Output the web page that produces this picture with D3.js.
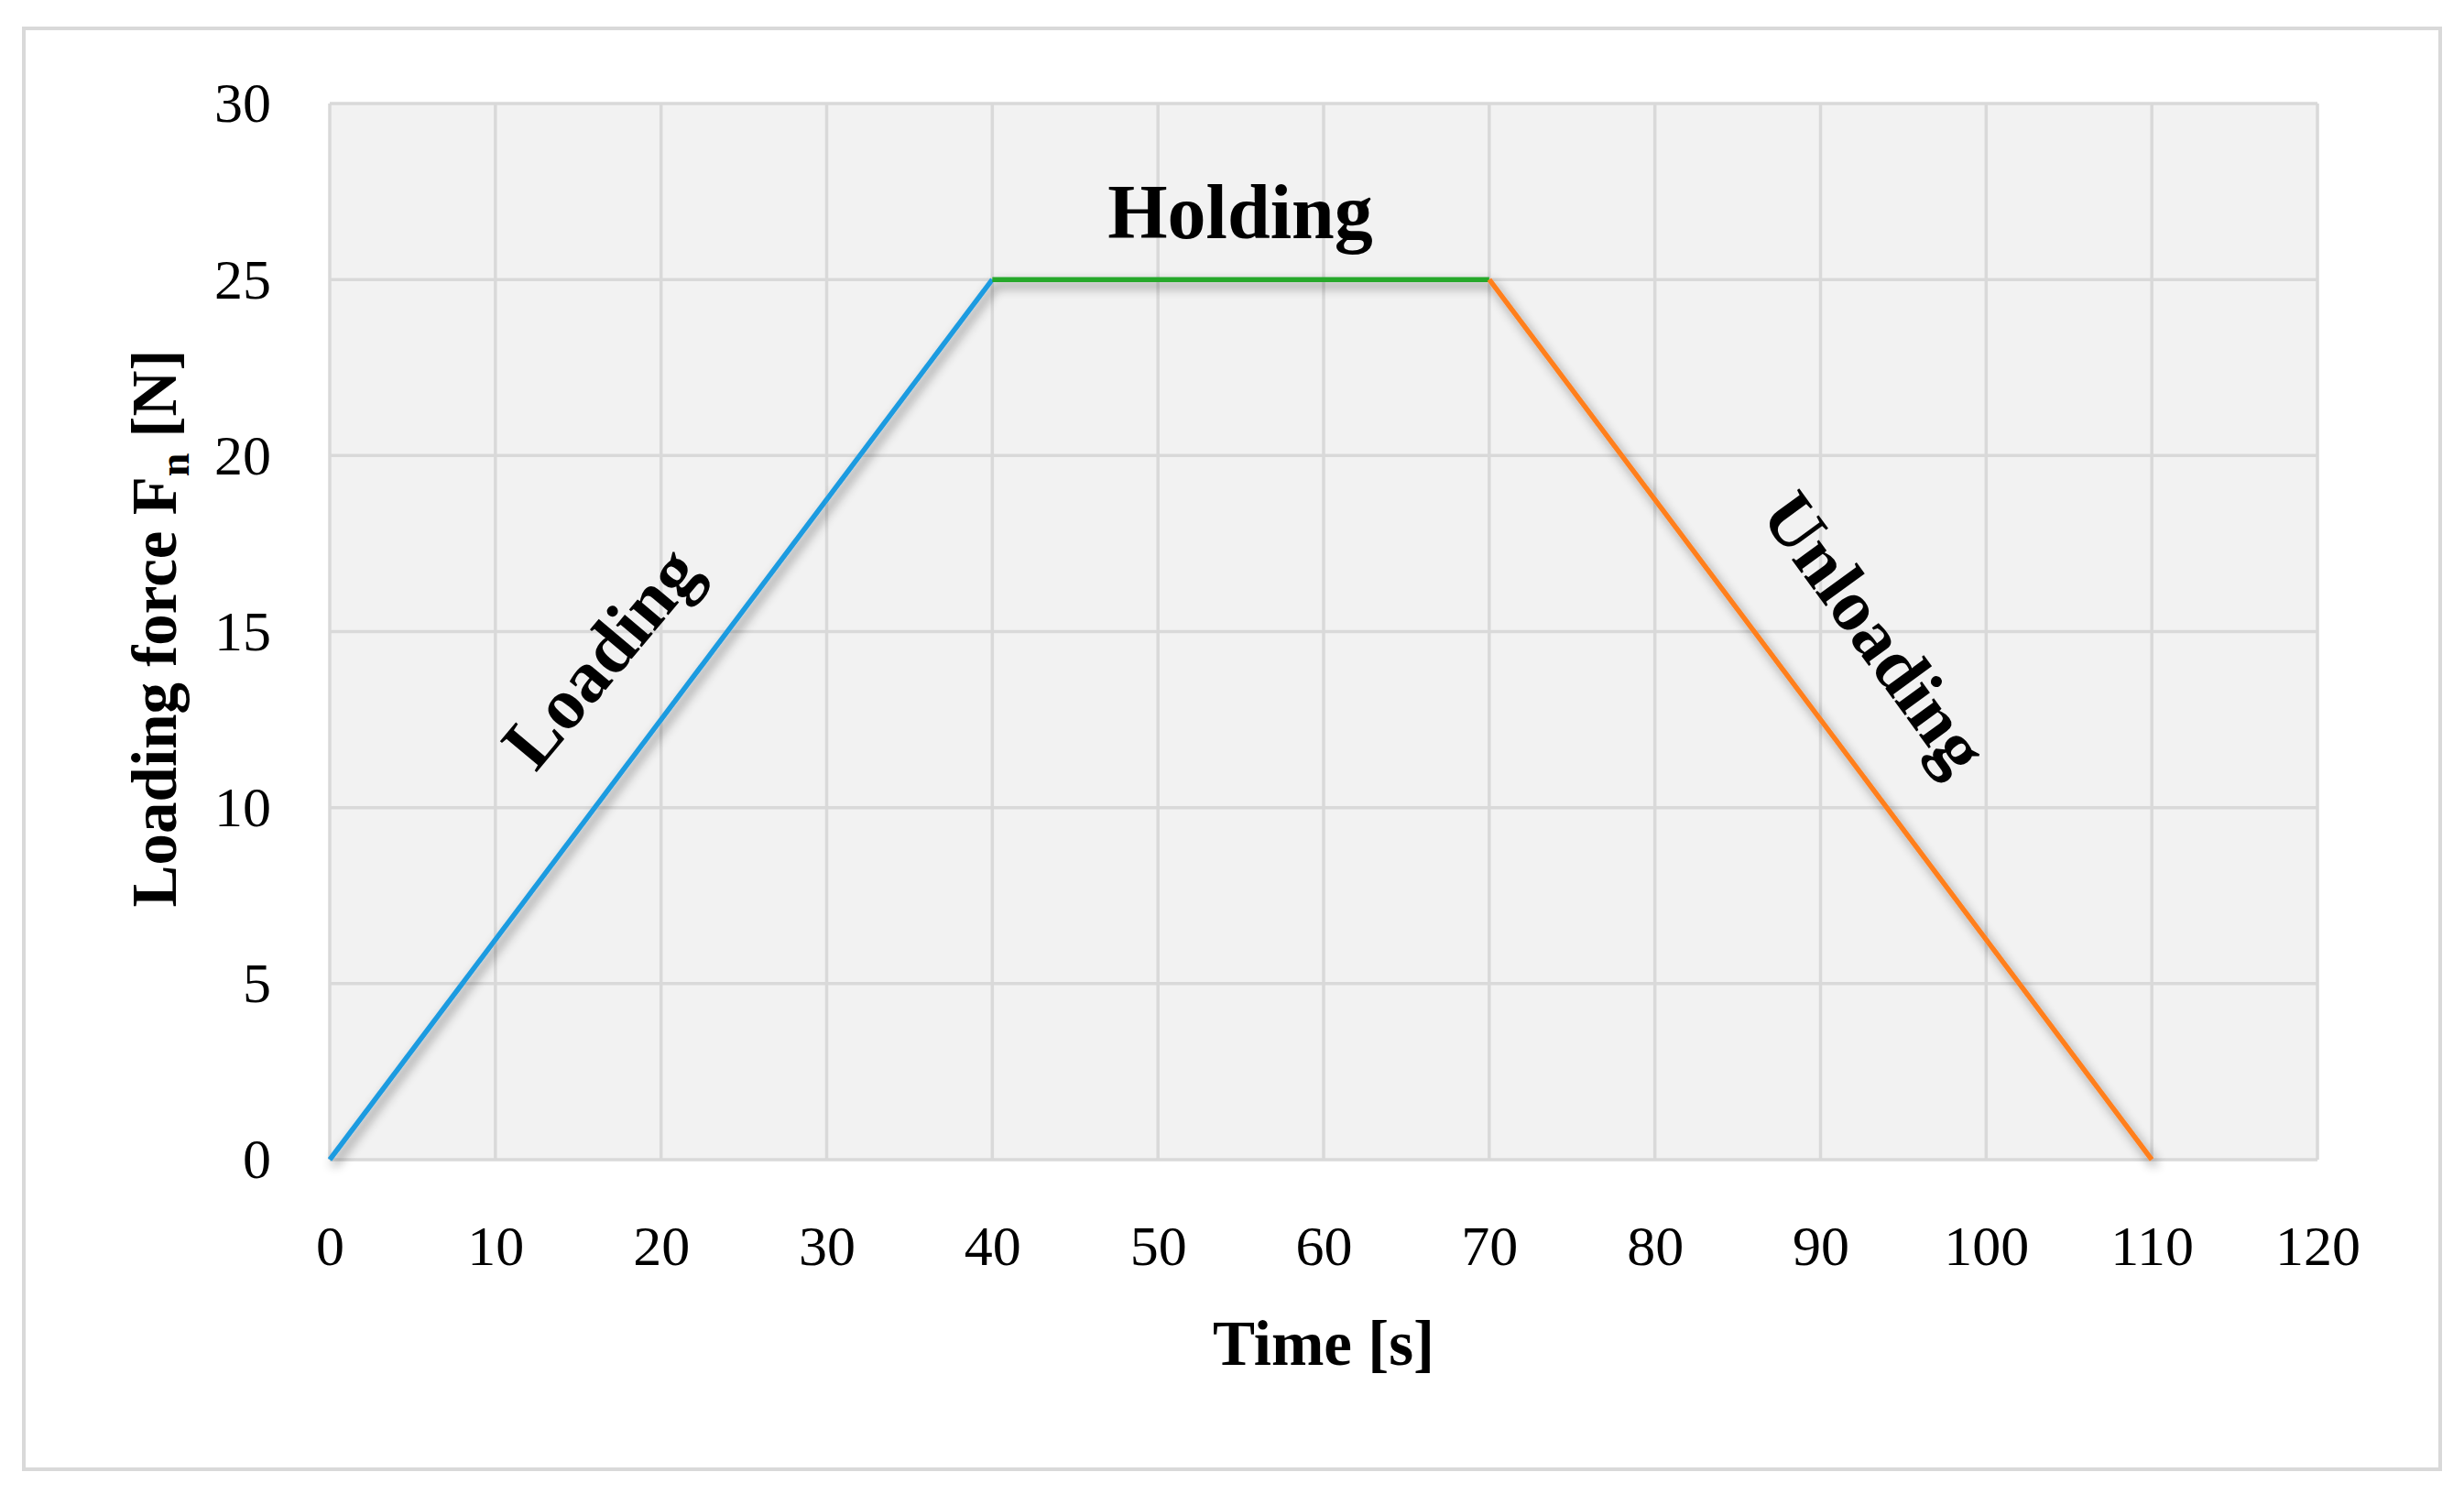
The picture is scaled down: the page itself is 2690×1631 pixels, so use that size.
<!DOCTYPE html>
<html>
<head>
<meta charset="utf-8">
<script src="https://d3js.org/d3.v7.min.js"></script>
<style>
  body { margin: 0; background: #fff; }
  svg text { font-family: 'Liberation Serif', 'DejaVu Serif', serif; fill: #000; }
</style>
</head>
<body>
<script>
// time [s] and force [N] at the corners of the load profile
const phases = ['Loading', 'Holding', 'Unloading'];
const phaseTime = [[0, 40], [40, 70], [70, 110]];
const phaseForce = [[0, 25], [25, 25], [25, 0]];
const phaseColor = ['#1e9be0', '#26a82a', '#ff7f1f'];
const xTicks = [0, 10, 20, 30, 40, 50, 60, 70, 80, 90, 100, 110, 120];
const yTicks = [0, 5, 10, 15, 20, 25, 30];

const width = 2690, height = 1631;
const margin = {left: 360, right: 160, top: 113, bottom: 365};

const svg = d3.select('body').append('svg')
  .attr('width', width).attr('height', height);

const defs = svg.append('defs');
defs.append('filter').attr('id', 'shadow')
  .attr('x', '-20%').attr('y', '-20%').attr('width', '140%').attr('height', '140%')
  .append('feDropShadow')
  .attr('dx', 4).attr('dy', 6).attr('stdDeviation', 6)
  .attr('flood-color', '#000').attr('flood-opacity', 0.45);

// outer frame
svg.append('rect')
  .attr('x', 26).attr('y', 31).attr('width', 2638).attr('height', 1573)
  .attr('fill', '#fff').attr('stroke', '#d9d9d9').attr('stroke-width', 4);

const x = d3.scaleLinear().domain([0, 120]).range([margin.left, width - margin.right]);
const y = d3.scaleLinear().domain([0, 30]).range([height - margin.bottom, margin.top]);

// plot background
svg.append('rect')
  .attr('x', x(0)).attr('y', y(30))
  .attr('width', x(120) - x(0)).attr('height', y(0) - y(30))
  .attr('fill', '#f2f2f2');

// grid
svg.append('g').selectAll('line').data(xTicks).join('line')
  .attr('x1', d => x(d)).attr('x2', d => x(d))
  .attr('y1', y(0)).attr('y2', y(30))
  .attr('stroke', '#d9d9d9').attr('stroke-width', 3.5);

svg.append('g').selectAll('line').data(yTicks).join('line')
  .attr('x1', x(0)).attr('x2', x(120))
  .attr('y1', d => y(d)).attr('y2', d => y(d))
  .attr('stroke', '#d9d9d9').attr('stroke-width', 3.5);

// axes (labels only)
const xAxis = svg.append('g')
  .attr('transform', `translate(0,${y(0)})`)
  .call(d3.axisBottom(x).tickValues(xTicks).tickSize(0).tickPadding(71));
const yAxis = svg.append('g')
  .attr('transform', `translate(${x(0)},0)`)
  .call(d3.axisLeft(y).tickValues(yTicks).tickSize(0).tickPadding(64));
[xAxis, yAxis].forEach(a => {
  a.select('.domain').remove();
  a.selectAll('text').attr('font-size', 62).attr('font-family', "'Liberation Serif', serif");
});

// load profile
const line = d3.line().x(d => x(d[0])).y(d => y(d[1]));
const segs = phases.map((p, i) => ({
  name: p,
  color: phaseColor[i],
  pts: phaseTime[i].map((t, j) => [t, phaseForce[i][j]])
}));

svg.append('g').attr('filter', 'url(#shadow)')
  .selectAll('path').data(segs).join('path')
  .attr('d', d => line(d.pts))
  .attr('fill', 'none')
  .attr('stroke', d => d.color)
  .attr('stroke-width', 5.5);

// phase labels
svg.append('text')
  .attr('x', 1354).attr('y', 260)
  .attr('text-anchor', 'middle')
  .attr('font-size', 84).attr('font-weight', 'bold')
  .text('Holding');

svg.append('text')
  .attr('transform', 'translate(655,717) rotate(-50)')
  .attr('text-anchor', 'middle').attr('dy', '0.35em')
  .attr('font-size', 80).attr('font-weight', 'bold')
  .text('Loading');

svg.append('text')
  .attr('transform', 'translate(2048,690) rotate(54)')
  .attr('text-anchor', 'middle').attr('dy', '0.35em')
  .attr('font-size', 80).attr('font-weight', 'bold')
  .text('Unloading');

// axis titles
svg.append('text')
  .attr('x', (x(0) + x(120)) / 2).attr('y', 1490)
  .attr('text-anchor', 'middle')
  .attr('font-size', 69).attr('font-weight', 'bold')
  .text('Time [s]');

const yt = svg.append('text')
  .attr('transform', 'translate(192,686) rotate(-90)')
  .attr('text-anchor', 'middle')
  .attr('font-size', 69).attr('font-weight', 'bold');
yt.append('tspan').text('Loading force F');
yt.append('tspan').attr('font-size', 46).attr('dy', 14).text('n');
yt.append('tspan').attr('dy', -14).text(' [N]');
</script>
</body>
</html>
